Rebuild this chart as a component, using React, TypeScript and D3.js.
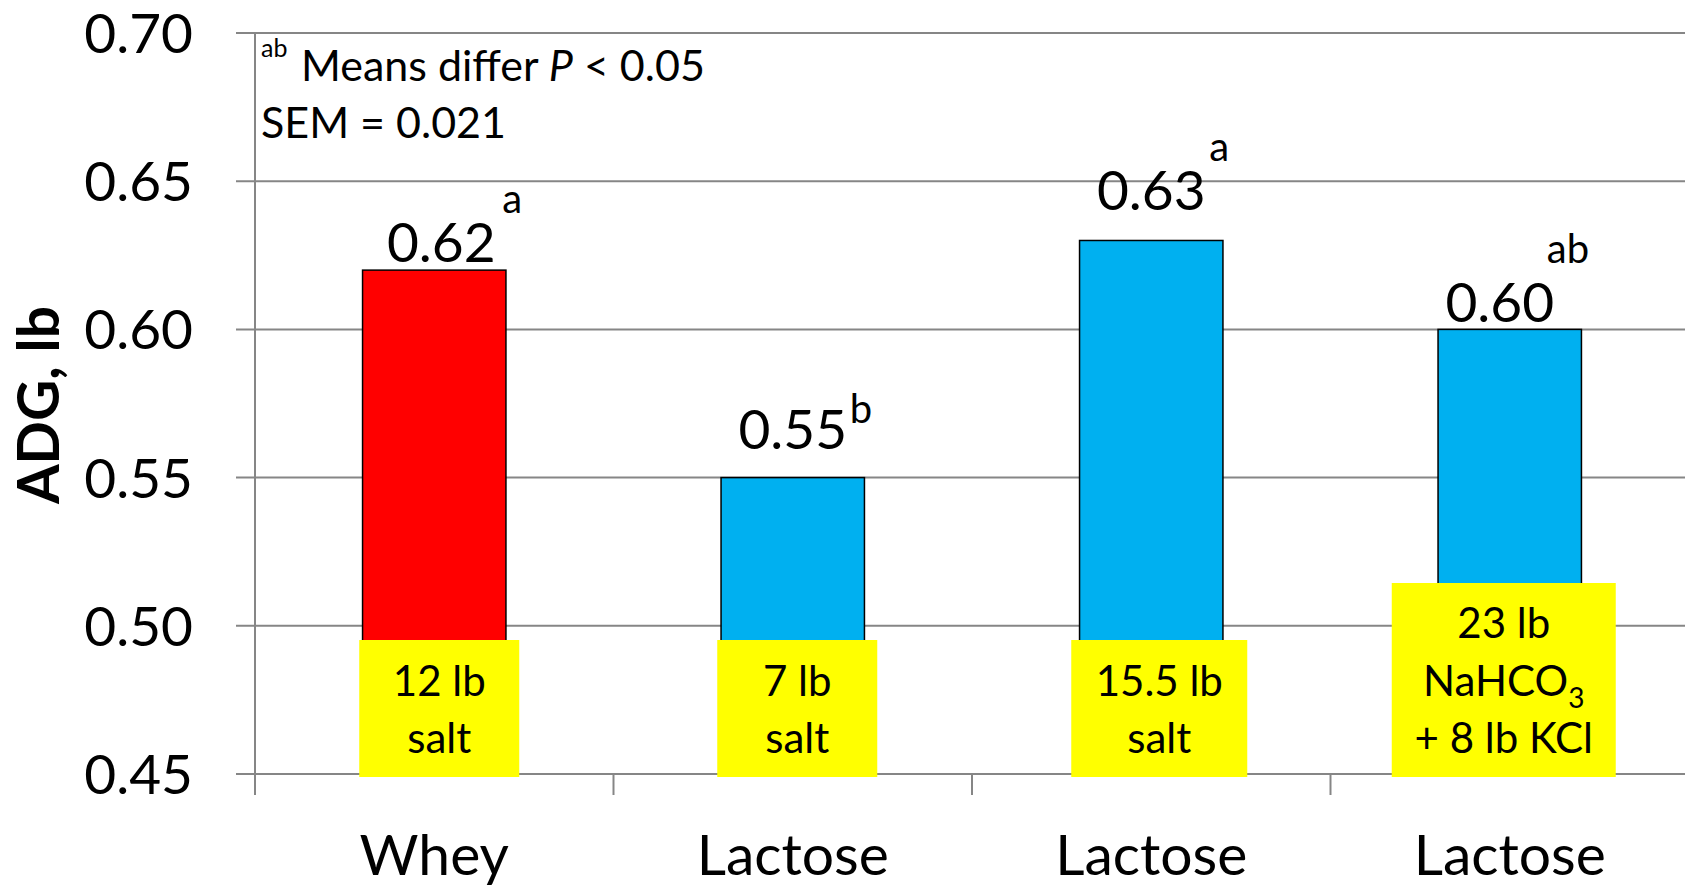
import React from "react";
import * as d3 from "d3";

const categories = ["Whey", "Lactose", "Lactose", "Lactose"];
const values = [0.62, 0.55, 0.63, 0.6];
const valueLabels = ["0.62", "0.55", "0.63", "0.60"];
const superscripts = ["a", "b", "a", "ab"];
const barColors = ["#FF0000", "#00B0F0", "#00B0F0", "#00B0F0"];
const boxLines = [
  ["12 lb", "salt"],
  ["7 lb", "salt"],
  ["15.5 lb", "salt"],
  ["23 lb", "NaHCO3", "+ 8 lb KCl"],
];
const yTicks = [0.45, 0.5, 0.55, 0.6, 0.65, 0.7];
const yTickLabels = ["0.45", "0.50", "0.55", "0.60", "0.65", "0.70"];
const yTitle = "ADG, lb";
const noteLine1 = "Means differ ";
const noteLine2 = "SEM = 0.021";

// layout (not data)
const W = 1685;
const H = 885;
const axisX = 255;
const plotTop = 33;
const plotBottom = 774;
const FONT = "Lato, 'Open Sans', sans-serif";
// per-bar label placement tweaks
const labelDx = [7, 0, 0, -10];
const labelAbove = [8, 29, 30, 7];
const supDx = [7, 3, 4, -7];
const supDy = [-49, -26, -49, -59];
const boxDx = [5, 4.5, 8, -6];
const boxW = [160, 160, 176, 224];
const boxH = [137, 137, 137, 194];

export default function App() {
  const x = d3
    .scaleBand<number>()
    .domain(d3.range(categories.length))
    .range([axisX, axisX + 4 * 358.5])
    .paddingInner(0.6)
    .paddingOuter(0.3);
  const y = d3.scaleLinear().domain([0.45, 0.7]).range([plotBottom, plotTop]);
  const step = x.step();
  const boundaries = d3.range(categories.length + 1).map((i) => axisX + i * step);

  const labelWidth = 108;

  return (
    <div style={{ position: "absolute", left: 0, top: 0, background: "#fff" }}>
      <svg width={W} height={H} style={{ display: "block" }} fontFamily={FONT}>
        <rect x={0} y={0} width={W} height={H} fill="#fff" />
        {yTicks.map((t) => (
          <line
            key={"g" + t}
            x1={236}
            x2={W}
            y1={y(t)}
            y2={y(t)}
            stroke="#868686"
            strokeWidth={2}
          />
        ))}
        <line x1={axisX} x2={axisX} y1={plotTop} y2={plotBottom + 21} stroke="#868686" strokeWidth={2} />
        {boundaries.map((bx, i) => (
          <line key={"t" + i} x1={bx} x2={bx} y1={plotBottom} y2={plotBottom + 21} stroke="#868686" strokeWidth={2} />
        ))}
        {yTicks.map((t, i) => (
          <text key={"yl" + t} x={193} y={y(t) + 20} textAnchor="end" fontSize={55} fill="#000">
            {yTickLabels[i]}
          </text>
        ))}
        <text
          transform={`translate(59,405) rotate(-90)`}
          textAnchor="middle"
          fontSize={57}
          fontWeight="bold"
          fill="#000"
        >
          {yTitle}
        </text>
        <text x={261} y={57} fontSize={25} fill="#000">ab</text>
        <text x={301} y={81} fontSize={43} fill="#000">
          {noteLine1}
          <tspan fontStyle="italic">P</tspan>
          {" < 0.05"}
        </text>
        <text x={261} y={138} fontSize={43} fill="#000">{noteLine2}</text>
        {values.map((v, i) => (
          <rect
            key={"b" + i}
            x={x(i)!}
            y={y(v)}
            width={x.bandwidth()}
            height={y(0.45) - y(v)}
            fill={barColors[i]}
            stroke="#000"
            strokeWidth={1.5}
          />
        ))}
        {values.map((v, i) => {
          const cx = x(i)! + x.bandwidth() / 2 + labelDx[i];
          const by = y(v) - labelAbove[i];
          return (
            <g key={"vl" + i}>
              <text x={cx} y={by} textAnchor="middle" fontSize={55} fill="#000">
                {valueLabels[i]}
              </text>
              <text x={cx + labelWidth / 2 + supDx[i]} y={by + supDy[i]} fontSize={40} fill="#000">
                {superscripts[i]}
              </text>
            </g>
          );
        })}
        {boxLines.map((lines, i) => {
          const cx = x(i)! + x.bandwidth() / 2 + boxDx[i];
          const bottom = plotBottom + 3;
          const top = bottom - boxH[i];
          const lineH = 57.5;
          const firstBase = bottom - 24 - (lines.length - 1) * lineH;
          return (
            <g key={"box" + i}>
              <rect x={cx - boxW[i] / 2} y={top} width={boxW[i]} height={boxH[i]} fill="#FFFF00" />
              {lines.map((ln, j) => {
                const m = ln.match(/^(.*?)(\d)$/);
                const isSub = ln === "NaHCO3";
                return (
                  <text
                    key={j}
                    x={cx}
                    y={firstBase + j * lineH}
                    textAnchor="middle"
                    fontSize={42}
                    fill="#000"
                  >
                    {isSub && m ? (
                      <>
                        {m[1]}
                        <tspan fontSize={28} dy={12}>{m[2]}</tspan>
                      </>
                    ) : (
                      ln
                    )}
                  </text>
                );
              })}
            </g>
          );
        })}
        {categories.map((c, i) => (
          <text
            key={"c" + i}
            x={x(i)! + x.bandwidth() / 2}
            y={875}
            textAnchor="middle"
            fontSize={57}
            fill="#000"
          >
            {c}
          </text>
        ))}
      </svg>
    </div>
  );
}
